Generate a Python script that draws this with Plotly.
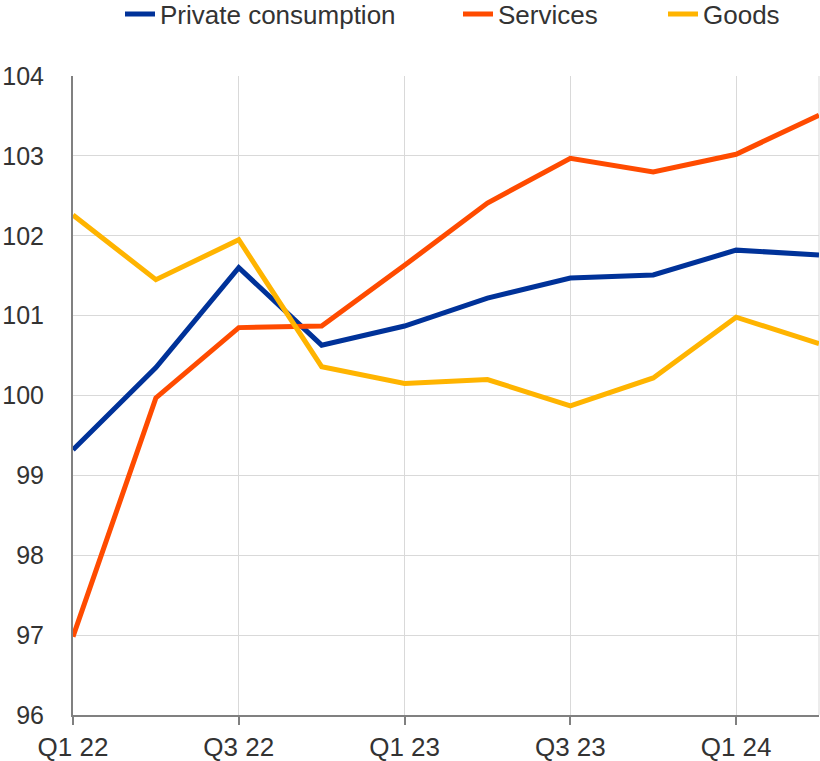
import plotly.graph_objects as go

quarters = ["Q1 22", "Q2 22", "Q3 22", "Q4 22", "Q1 23", "Q2 23", "Q3 23", "Q4 23", "Q1 24", "Q2 24"]
private_consumption = [99.32, 100.35, 101.60, 100.63, 100.87, 101.22, 101.47, 101.51, 101.82, 101.76]
services = [96.98, 99.97, 100.85, 100.87, 101.63, 102.41, 102.97, 102.80, 103.02, 103.51]
goods = [102.26, 101.45, 101.95, 100.36, 100.15, 100.20, 99.87, 100.22, 100.98, 100.65]

x = list(range(len(quarters)))
tick_idx = [0, 2, 4, 6, 8]

series = [
    ("Private consumption", private_consumption, "#003299", "legend", 162),
    ("Services", services, "#FF4B00", "legend2", 500),
    ("Goods", goods, "#FFB400", "legend3", 705),
]

fig = go.Figure()
for name, vals, color, lg, _ in series:
    fig.add_trace(go.Scatter(x=x, y=vals, mode="lines", name=name, legend=lg,
                             line=dict(color=color, width=5), cliponaxis=False))

legend_common = dict(orientation="h", xanchor="left", xref="container",
                     y=1 - 14 / 761, yanchor="middle", yref="container",
                     font=dict(size=26), itemwidth=30, bgcolor="rgba(0,0,0,0)")
legends = {}
for name, vals, color, lg, text_x in series:
    legends[lg] = dict(legend_common, x=(text_x - 42) / 820)

fig.update_layout(
    width=820, height=761,
    margin=dict(l=73, r=1, t=76, b=46, autoexpand=False),
    paper_bgcolor="white", plot_bgcolor="white",
    font=dict(family="Liberation Sans, Arial, sans-serif", size=26, color="#333333"),
    showlegend=True,
    xaxis=dict(range=[0, 9], tickvals=[x[i] for i in tick_idx],
               ticktext=[quarters[i] for i in tick_idx],
               showgrid=True, gridcolor="#d9d9d9", gridwidth=1,
               showline=True, linecolor="#808080", linewidth=2,
               ticks="outside", ticklen=8, tickwidth=2, tickcolor="#808080",
               zeroline=False, automargin=False),
    yaxis=dict(range=[96, 104], dtick=1, showgrid=True, gridcolor="#d9d9d9", gridwidth=1,
               showline=True, linecolor="#808080", linewidth=2,
               ticks="", ticklabelstandoff=22, tickfont=dict(size=25),
               zeroline=False, automargin=False),
    **legends,
)
fig.add_shape(type="line", xref="paper", yref="paper", x0=1, x1=1, y0=0, y1=1,
              line=dict(color="#d9d9d9", width=1), layer="below")

fig.write_html("out.html", config={"displayModeBar": False},
               post_script="document.body.style.margin='0';document.body.style.overflow='hidden';")
